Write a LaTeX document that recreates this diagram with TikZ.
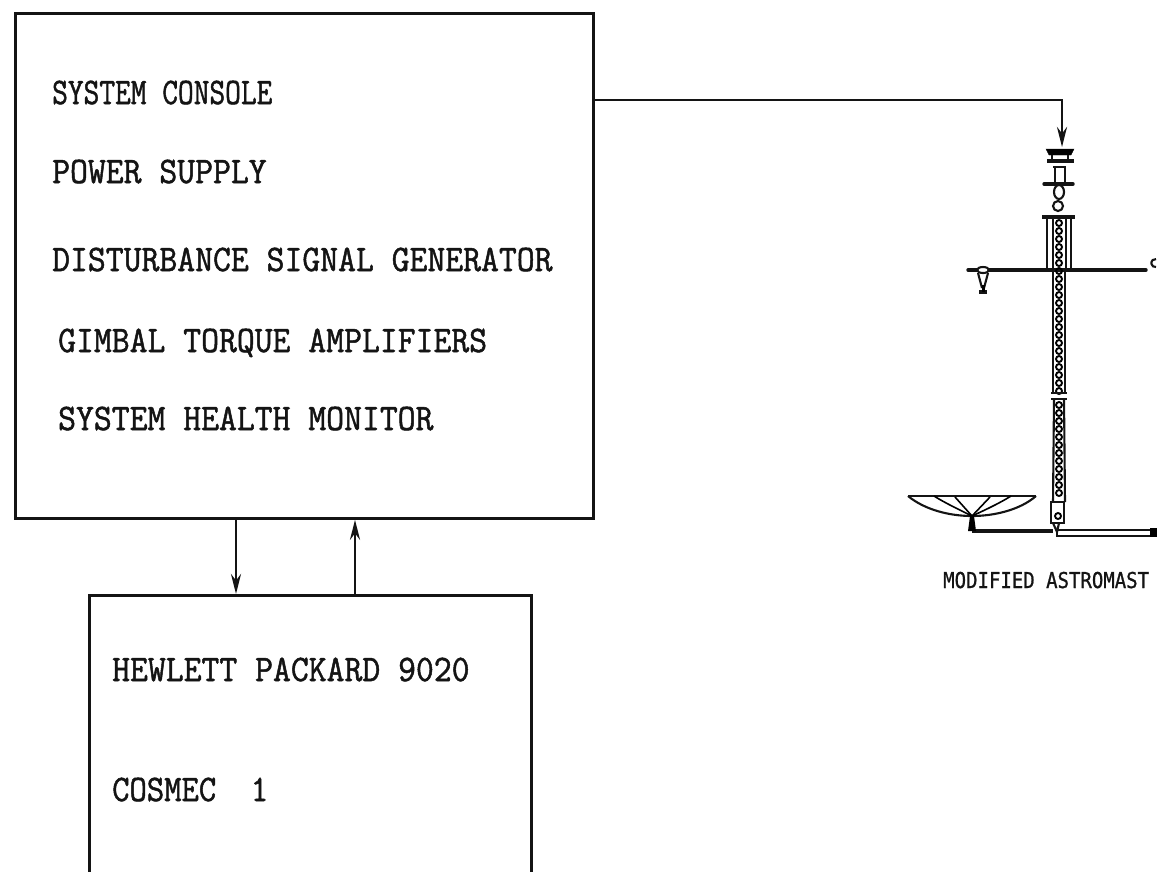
\documentclass[tikz,border=0pt]{standalone}
\usepackage{fontspec}
\usepackage{graphicx}
\setmonofont{Latin Modern Mono}
\newfontfamily\mastfont[FakeBold=1]{DejaVu Sans Mono}
\usetikzlibrary{arrows.meta}
\tikzset{
  wire/.style={line width=2.8pt,black!92},
  fine/.style={line width=2.1pt,black!92},
  boxn/.style={draw,line width=2.8pt,black!92,rectangle,inner sep=0pt,anchor=north west},
  lab/.style={inner sep=0pt,anchor=base west,font=\fontsize{34.7}{37}\selectfont\ttfamily\addfontfeature{FakeBold=1.4},black!92},
  mastlab/.style={inner sep=0pt,anchor=base west,font=\fontsize{19}{21}\selectfont\mastfont,black!92},
  tip/.style={-{Stealth[length=20pt,width=10pt]}},
  chain/.style={draw,line width=1.9pt,circle,inner sep=0pt,minimum size=6pt}
}
\begin{document}
\begin{tikzpicture}[x=1pt,y=-1pt]
\useasboundingbox (0,0) rectangle (1158,871);
\clip (0,0) rectangle (1158,871);
\fill[white] (0,0) rectangle (1158,871);
% boxes
\node[boxn,minimum width=578pt,minimum height=505pt] (console) at (14,12) {};
\node[boxn,minimum width=442pt,minimum height=320pt] (hp) at (88,594) {};
% labels
\node[lab] (l1) at (52,104) {\scalebox{.88}[1.08]{SYSTEM CONSOLE}};
\node[lab] (l2) at (52,183) {\scalebox{1}[1.08]{POWER SUPPLY}};
\node[lab] (l3) at (52,271) {\scalebox{1}[1.08]{DISTURBANCE SIGNAL GENERATOR}};
\node[lab] (l4) at (58,352) {\scalebox{1}[1.08]{GIMBAL TORQUE AMPLIFIERS}};
\node[lab] (l5) at (58,430) {\scalebox{1}[1.08]{SYSTEM HEALTH MONITOR}};
\node[lab] (l6) at (112,681) {\scalebox{1}[1.08]{HEWLETT PACKARD 9020}};
\node[lab] (l7) at (112,801) {\scalebox{.97}[1.08]{COSMEC\ \ 1}};
\node[mastlab] (l8) at (943,588) {\scalebox{1}[1.15]{MODIFIED ASTROMAST}};
% mast anchor
\coordinate (mastTop) at (1062,147);
% connectors
\draw[wire,tip] (console.east |- 0,100) -- (1062,100) -- (mastTop);
\draw[wire,tip] (console.south -| 236,0) -- (hp.north -| 236,0);
\draw[wire,tip] (hp.north -| 355,0) -- (console.south -| 355,0);
% top fixture
\draw[fill=black] (1046,149) -- (1074,149) -- (1071,155) -- (1049,155) -- cycle;
\draw[wire,line width=3.4pt] (1047,161) -- (1074,161);
\draw[fine] (1052,155) -- (1052,161) (1068,155) -- (1068,161);
\draw[wire] (1053,167) -- (1066,167);
\draw[fine] (1055,167) -- (1055,182) (1065,167) -- (1065,182);
\draw[wire,line width=3.4pt,line cap=round] (1044,184) -- (1073,184);
\draw[fine] (1059,192) ellipse (5 and 7);
\draw[fine] (1058,206) circle (5);
\draw[wire,line width=3.6pt] (1042,217) -- (1075,217);
% sleeves
\draw[fine] (1047,217) -- (1047,270) (1053,217) -- (1053,270) (1066,217) -- (1066,270) (1071,217) -- (1071,270);
% horizontal boom
\draw[wire,line width=3.4pt,line cap=round] (968,270) -- (1146,270);
\draw[fine] (1156,267) arc (80:280:4);
% left pendant
\draw[fine,fill=white] (983,270) ellipse (6 and 3);
\draw[fine] (978,273) -- (982,288) (988,273) -- (984,288);
\draw[wire,line width=3.4pt] (979,292) -- (987,292);
\fill (982,285) rectangle (985,292);
% mast chain upper
\foreach \yy in {223,231,...,391} {
  \node[chain] at (1059,\yy) {};
}
\draw[fine] (1053,270) -- (1053,392) (1065,270) -- (1065,392);
\draw[wire] (1051,393) -- (1067,393);
% lower part
\draw[wire] (1051,399) -- (1067,399);
\draw[fine] (1054,399) -- (1053,502) (1064,399) -- (1065,502);
\foreach \yy in {405,413,...,495} {
  \node[chain] at (1059,\yy) {};
}
\draw[fine] (1051,502) rectangle (1064,523);
\node[chain] at (1058,516) {};
\draw[fine] (1053,523) -- (1057,532) -- (1059,523);
% bottom rails
\draw[wire] (1057,530) -- (1153,530);
\draw[wire] (1057,536) -- (1153,536) (1057,530) -- (1057,537);
\fill (1150,528) rectangle (1157,537);
\draw[wire,line width=3.4pt] (972,531) -- (1053,531);
% dish
\draw[wire] (908,496) -- (1036,496);
\draw[fine] (908,496) .. controls (925,510) and (950,516) .. (972,516) .. controls (994,516) and (1020,510) .. (1036,496);
\draw[line width=1.6pt] (972,516) .. controls (960,510) and (945,503) .. (934,496);
\draw[line width=1.6pt] (972,516) -- (955,497);
\draw[line width=1.6pt] (972,516) -- (990,497);
\draw[line width=1.6pt] (972,516) .. controls (985,510) and (1000,503) .. (1011,496);
\fill (970,516) -- (974,516) -- (976,531) -- (968,531) -- cycle;
\end{tikzpicture}
\end{document}
